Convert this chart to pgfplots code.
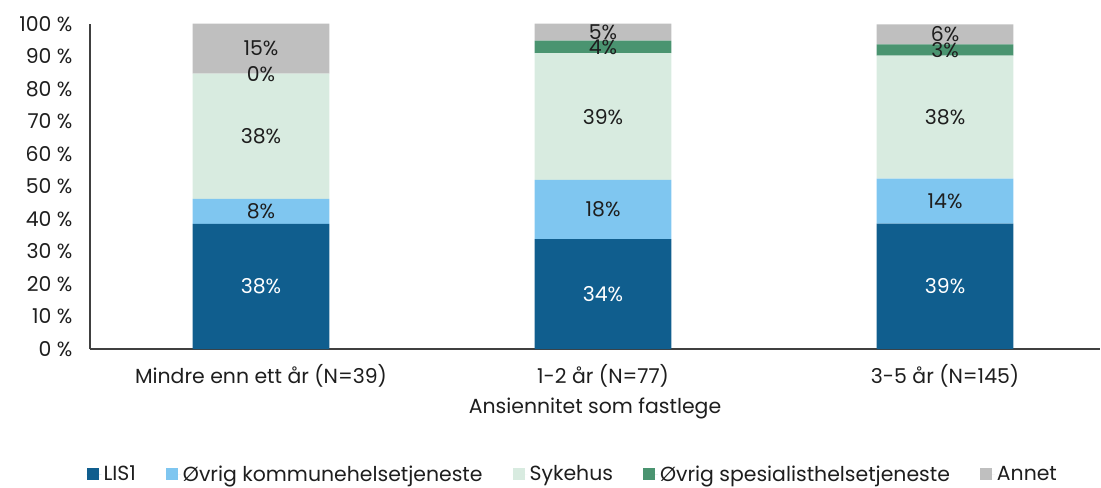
\documentclass[border=0pt]{standalone}
\usepackage{fontspec}
\setmainfont{Poppins}
\usepackage{pgfplots}
\pgfplotsset{compat=1.18}
\definecolor{cLIS}{RGB}{16,94,142}
\definecolor{cKom}{RGB}{127,198,240}
\definecolor{cSyk}{RGB}{216,235,224}
\definecolor{cSpe}{RGB}{74,148,112}
\definecolor{cAnn}{RGB}{191,191,191}
\definecolor{cTxt}{RGB}{30,30,30}
\definecolor{cAx}{RGB}{64,64,64}
\newcommand{\fs}{\fontsize{20.5}{24}\selectfont}
\begin{document}
\begin{tikzpicture}
\useasboundingbox (-90bp,-139bp) rectangle (1011bp,349bp);
\begin{axis}[
  at={(0,0)}, anchor=south west,
  scale only axis, width=1010bp, height=325bp,
  ybar stacked, bar width=0.4,
  xmin=-0.5, xmax=2.453, ymin=0, ymax=100,
  axis x line*=bottom, axis y line*=left,
  axis line style={cAx, line width=1.4bp},
  x axis line style={-}, y axis line style={-},
  major tick length=0pt,
  xtick={0,1,2},
  xticklabels={Mindre enn ett år (N=39),1-2 år (N=77),3-5 år (N=145)},
  ytick={0,10,...,100},
  yticklabels={0 \%,10 \%,20 \%,30 \%,40 \%,50 \%,60 \%,70 \%,80 \%,90 \%,100 \%},
  yticklabel style={xshift=-14bp},
  xticklabel style={yshift=-12bp},
  tick label style={font=\fs, text=cTxt},
  xlabel={Ansiennitet som fastlege},
  xlabel style={font=\fs, text=cTxt, yshift=-4bp},
  legend style={at={(0.478,-0.385)}, anchor=center, draw=none, fill=none,
    font=\fs, text=cTxt, legend cell align=left, inner sep=0pt,
    /tikz/every even column/.append style={column sep=28bp}},
  legend columns=5,
  legend image code/.code={\fill[#1] (0bp,-6bp) rectangle (12bp,6bp);
     \path (0bp,0bp) -- (15bp,0bp);},
  every axis plot/.append style={draw=none},
]
\addplot[fill=cLIS] coordinates {(0,38.5) (1,33.8) (2,38.6)};
\addplot[fill=cKom] coordinates {(0,7.7) (1,18.2) (2,13.8)};
\addplot[fill=cSyk] coordinates {(0,38.5) (1,39.0) (2,37.9)};
\addplot[fill=cSpe] coordinates {(0,0) (1,3.9) (2,3.4)};
\addplot[fill=cAnn] coordinates {(0,15.4) (1,5.2) (2,6.2)};
\legend{LIS1,Øvrig kommunehelsetjeneste,Sykehus,Øvrig spesialisthelsetjeneste,Annet}
\end{axis}
\begin{axis}[
  at={(0,0)}, anchor=south west,
  scale only axis, width=1010bp, height=325bp,
  xmin=-0.5, xmax=2.453, ymin=0, ymax=100,
  axis lines=none,
  nodes near coords, point meta=explicit symbolic,
  every node near coord/.append style={anchor=center, font=\fs, inner sep=0pt},
]
\addplot[draw=none, mark=none, nodes near coords style={text=white}] coordinates {
  (0,19.25)[38\%] (1,16.9)[34\%] (2,19.3)[39\%]};
\addplot[draw=none, mark=none, nodes near coords style={text=cTxt}] coordinates {
  (0,42.35)[8\%] (1,42.9)[18\%] (2,45.5)[14\%]
  (0,65.45)[38\%] (1,71.5)[39\%] (2,71.35)[38\%]
  (0,84.7)[0\%] (1,92.95)[4\%] (2,92.0)[3\%]
  (0,92.4)[15\%] (1,97.5)[5\%] (2,96.8)[6\%]};
\end{axis}
\end{tikzpicture}
\end{document}
